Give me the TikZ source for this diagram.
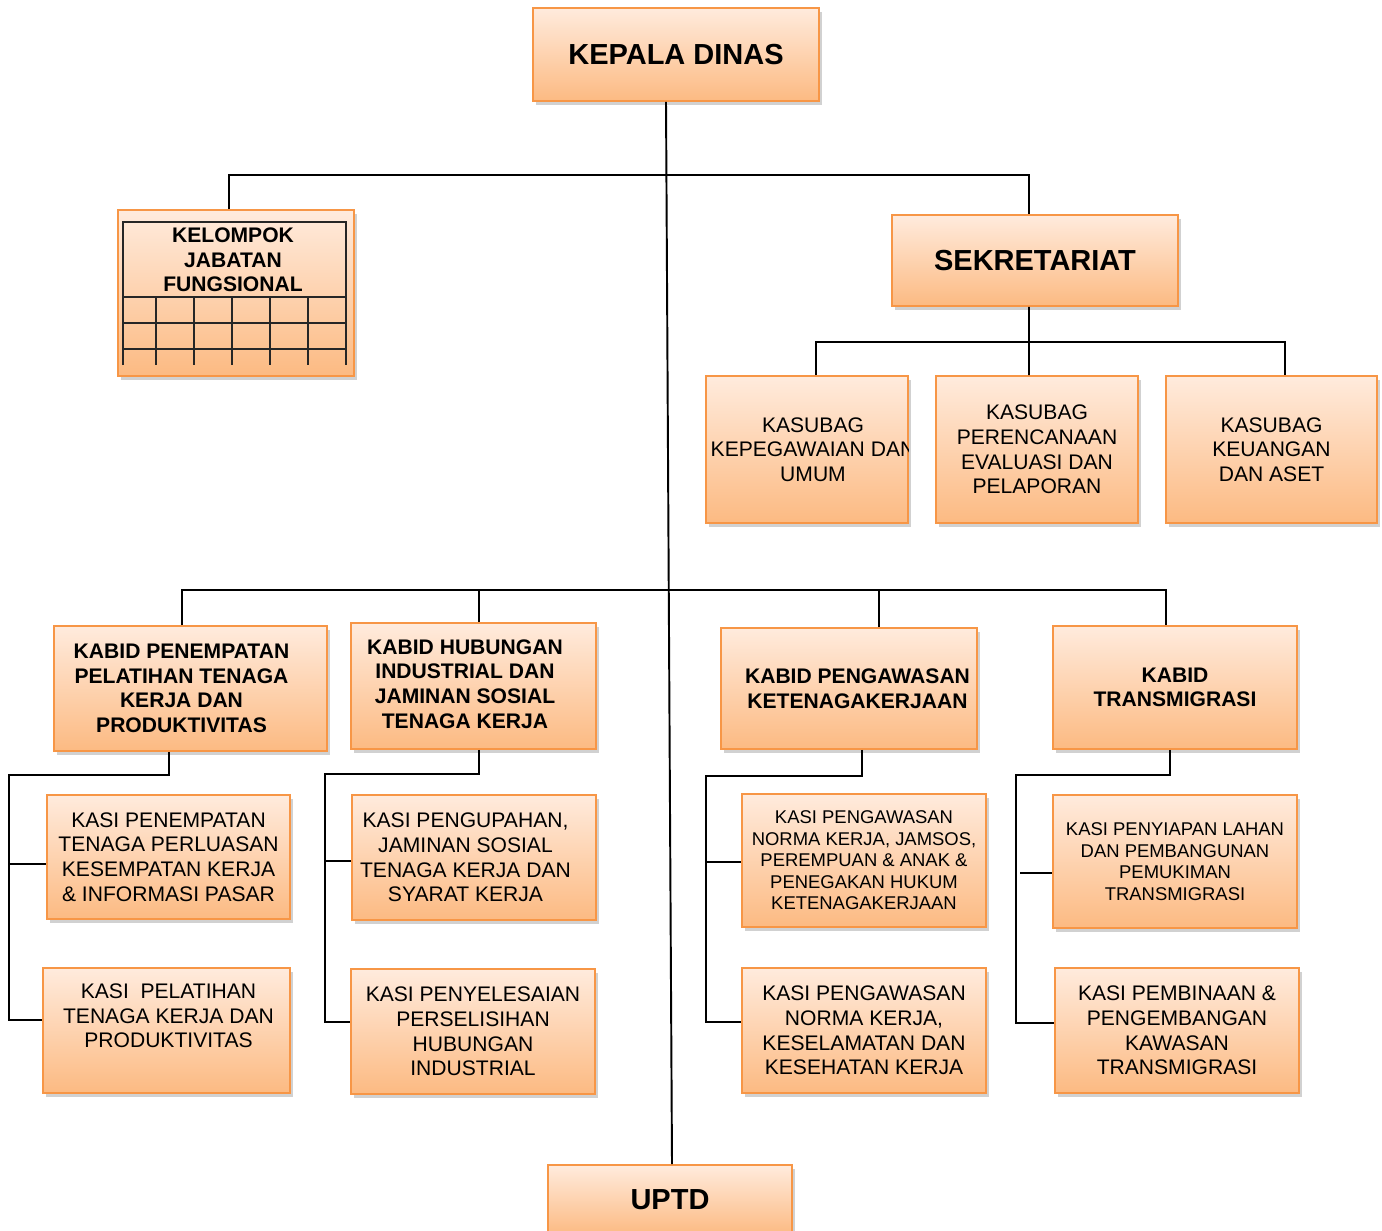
\documentclass[tikz,border=0pt]{standalone}
\usepackage{fontspec}
\setmainfont{Liberation Sans}
\usepackage{tikz}
\usetikzlibrary{positioning, shadows}
\usepackage{xcolor}
\definecolor{boxline}{RGB}{247, 150, 70}
\definecolor{boxtop}{RGB}{255, 235, 221}
\definecolor{boxbottom}{RGB}{252, 186, 130}

\tikzset{
  orgbox/.style={draw=boxline, line width=1.1pt, top color=boxtop, bottom color=boxbottom,
    drop shadow={shadow xshift=0.06cm, shadow yshift=-0.08cm, fill=black!45, opacity=0.4},
    align=center, inner sep=0pt, text=black},
  headfont/.style={font=\fontsize{16.5}{19}\selectfont\bfseries},
  kabidfont/.style={font=\fontsize{12}{14}\selectfont\bfseries},
  kasifont/.style={font=\fontsize{12}{14}\selectfont},
  smallfont/.style={font=\fontsize{10.5}{12.2}\selectfont},
  link/.style={draw=black, line width=1.1pt},
  gridline/.style={draw=black!85, line width=0.7pt}
}

\begin{document}
\begin{tikzpicture}[x=0.02cm, y=-0.02cm]
  \useasboundingbox (0,0) rectangle (1382,1230);

  % top level
  \node[orgbox, headfont, minimum width=5.72cm, minimum height=1.86cm] (kepala) at (676,54.5) {KEPALA DINAS};
  \node[orgbox, minimum width=4.72cm, minimum height=3.32cm] (kjf) at (236,293) {};
  \node[kabidfont, align=center] (kjftext) at (233,260) {KELOMPOK\\JABATAN\\FUNGSIONAL};
  \draw[gridline] (123,365) -- (123,222) -- (346,222) -- (346,365);
  \foreach \y in {297,323,349} \draw[gridline] (123,\y) -- (346,\y);
  \foreach \x in {156,194,232,270,308} \draw[gridline] (\x,297) -- (\x,365);
  \node[orgbox, headfont, minimum width=5.72cm, minimum height=1.82cm] (sekr) at (1035,260.5) {SEKRETARIAT};

  % kasubag
  \node[orgbox, minimum width=4.04cm, minimum height=2.94cm] (ksb1) at (807,449.5) {};
  \begin{scope}
    \clip (ksb1.south west) rectangle (ksb1.north east);
    \node[kasifont, align=center] (ksb1text) at ([xshift=0.12cm]ksb1.center) {KASUBAG\\KEPEGAWAIAN DAN\\UMUM};
  \end{scope}
  \node[orgbox, kasifont, minimum width=4.04cm, minimum height=2.94cm] (ksb2) at (1037,449.5) {KASUBAG\\PERENCANAAN\\EVALUASI DAN\\PELAPORAN};
  \node[orgbox, kasifont, minimum width=4.22cm, minimum height=2.94cm] (ksb3) at (1271.5,449.5) {KASUBAG\\KEUANGAN\\DAN ASET};

  % kabid
  \node[orgbox, minimum width=5.46cm, minimum height=2.5cm,
        label={[kabidfont, align=center, xshift=-0.18cm]center:{KABID PENEMPATAN\\PELATIHAN TENAGA\\KERJA DAN\\PRODUKTIVITAS}}] (kb1) at (190.5,688.5) {};
  \node[orgbox, minimum width=4.9cm, minimum height=2.52cm,
        label={[kabidfont, align=center, xshift=-0.17cm, yshift=0.04cm]center:{KABID HUBUNGAN\\INDUSTRIAL DAN\\JAMINAN SOSIAL\\TENAGA KERJA}}] (kb2) at (473.5,686) {};
  \node[orgbox, minimum width=5.12cm, minimum height=2.42cm,
        label={[kabidfont, align=center, xshift=0.17cm]center:{KABID PENGAWASAN\\KETENAGAKERJAAN}}] (kb3) at (849,688.5) {};
  \node[orgbox, kabidfont, minimum width=4.88cm, minimum height=2.46cm] (kb4) at (1175,687.5) {KABID\\TRANSMIGRASI};

  % kasi
  \node[orgbox, kasifont, minimum width=4.86cm, minimum height=2.48cm] (ks1) at (168.5,857) {KASI PENEMPATAN\\TENAGA PERLUASAN\\KESEMPATAN KERJA\\\& INFORMASI PASAR};
  \node[orgbox, minimum width=4.94cm, minimum height=2.5cm,
        label={[kasifont, align=center, xshift=0.04cm, yshift=0.29cm]center:{KASI\ \ PELATIHAN\\TENAGA KERJA DAN\\PRODUKTIVITAS}}] (ks2) at (166.5,1030.5) {};
  \node[orgbox, minimum width=4.88cm, minimum height=2.5cm,
        label={[kasifont, align=center, xshift=-0.17cm]center:{KASI PENGUPAHAN,\\JAMINAN SOSIAL\\TENAGA KERJA DAN\\SYARAT KERJA}}] (ks3) at (474,857.5) {};
  \node[orgbox, kasifont, minimum width=4.88cm, minimum height=2.5cm] (ks4) at (473,1031.5) {KASI PENYELESAIAN\\PERSELISIHAN\\HUBUNGAN\\INDUSTRIAL};
  \node[orgbox, smallfont, minimum width=4.88cm, minimum height=2.66cm] (ks5) at (864,860.5) {KASI PENGAWASAN\\NORMA KERJA, JAMSOS,\\PEREMPUAN \& ANAK \&\\PENEGAKAN HUKUM\\KETENAGAKERJAAN};
  \node[orgbox, kasifont, minimum width=4.88cm, minimum height=2.5cm] (ks6) at (864,1030.5) {KASI PENGAWASAN\\NORMA KERJA,\\KESELAMATAN DAN\\KESEHATAN KERJA};
  \node[orgbox, smallfont, minimum width=4.88cm, minimum height=2.66cm] (ks7) at (1175,861.5) {KASI PENYIAPAN LAHAN\\DAN PEMBANGUNAN\\PEMUKIMAN\\TRANSMIGRASI};
  \node[orgbox, kasifont, minimum width=4.88cm, minimum height=2.5cm] (ks8) at (1177,1030.5) {KASI PEMBINAAN \&\\PENGEMBANGAN\\KAWASAN\\TRANSMIGRASI};

  \node[orgbox, headfont, minimum width=4.88cm, minimum height=1.4cm] (uptd) at (670,1200) {UPTD};

  % connectors
  \draw[link] ([xshift=-0.2cm]kepala.south) -- ([xshift=0.04cm]uptd.north);
  \draw[link] ([xshift=-0.14cm]kjf.north) -- ++(0,-34) -| ([xshift=-0.12cm]sekr.north);
  \draw[link] ([xshift=-0.12cm]sekr.south) -- ([xshift=-0.16cm]ksb2.north);
  \draw[link] ([xshift=0.18cm]ksb1.north) -- ++(0,-33) -| ([xshift=0.27cm]ksb3.north);

  \draw[link] ([xshift=-0.17cm]kb1.north) -- ++(0,-35) -| ([xshift=-0.18cm]kb4.north);
  \draw[link] ([xshift=0.11cm]kb2.north) -- ++(0,-32);
  \draw[link] ([xshift=0.6cm]kb3.north) -- ++(0,-37);

  \draw[link] ([xshift=-0.43cm]kb1.south) -- ++(0,23) -| ([xshift=-0.66cm,yshift=0.21cm]ks2.west) -- ([yshift=0.21cm]ks2.west);
  \draw[link] ([xshift=-0.74cm,yshift=-0.14cm]ks1.west) -- ([yshift=-0.14cm]ks1.west);

  \draw[link] ([xshift=0.11cm]kb2.south) -- ++(0,24) -| ([xshift=-0.5cm,yshift=0.19cm]ks4.west) -- ([yshift=0.19cm]ks4.west);
  \draw[link] ([xshift=-0.52cm,yshift=-0.07cm]ks3.west) -- ([yshift=-0.07cm]ks3.west);

  \draw[link] ([xshift=0.26cm]kb3.south) -- ++(0,26) -| ([xshift=-0.7cm,yshift=0.17cm]ks6.west) -- ([yshift=0.17cm]ks6.west);
  \draw[link] ([xshift=-0.7cm,yshift=-0.03cm]ks5.west) -- ([yshift=-0.03cm]ks5.west);

  \draw[link] ([xshift=-0.1cm]kb4.south) -- ++(0,25) -| ([xshift=-0.76cm,yshift=0.15cm]ks8.west) -- ([yshift=0.15cm]ks8.west);
  \draw[link] ([xshift=-0.64cm,yshift=-0.23cm]ks7.west) -- ([yshift=-0.23cm]ks7.west);
\end{tikzpicture}
\end{document}
